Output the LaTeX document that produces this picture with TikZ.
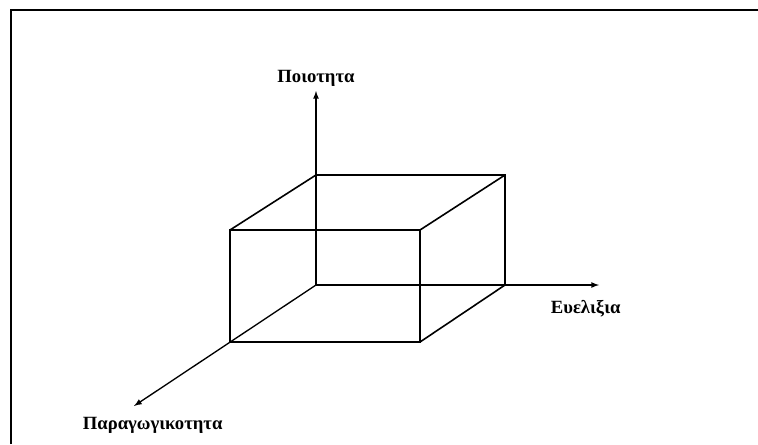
\documentclass[tikz,border=0pt]{standalone}
\usepackage{fontspec}
\setmainfont{Liberation Serif}
\usetikzlibrary{positioning}
\tikzset{
  axislabel/.style={font=\fontsize{14}{16}\selectfont\bfseries,inner sep=1pt},
  boxedge/.style={line width=1.2pt,line join=miter},
  axisline/.style={-latex,line width=1pt}
}
\begin{document}
\begin{tikzpicture}[x=0.75pt,y=-0.75pt]
\useasboundingbox (0,0) rectangle (758,444);
\draw  [line  width=1.6pt]  (11,444)  --  (11,10)  --  (758,10);
% corners of the box
\coordinate (O) at (316,285);
\coordinate (bt) at (316,175);
\coordinate (btr) at (505,175);
\coordinate (bbr) at (505,285);
\coordinate (ftl) at (230,230);
\coordinate (ftr) at (420,230);
\coordinate (fbr) at (420,342);
\coordinate (fbl) at (230,342);
% axes
\coordinate (qtip) at (316,91);
\coordinate (etip) at (599,285);
\coordinate (ptip) at (134,406);
\node (quality) [axislabel,above=2pt of qtip] {Ποιοτητα};
\node (flex) [axislabel,below=10pt of etip,xshift=-10pt] {Ευελιξια};
\node (prod) [axislabel,below=7pt of ptip,xshift=14pt] {Παραγωγικοτητα};
\draw  [axisline]  (O)  --  (qtip);
\draw  [axisline]  (O)  --  (etip);
\draw  [axisline]  (O)  --  (ptip);
% box
\draw  [boxedge]  (ftl)  rectangle  (fbr);
\draw  [boxedge]  (ftl)  --  (bt)  --  (btr)  --  (bbr);
\draw  [boxedge]  (btr)  --  (ftr);
\draw  [boxedge]  (bbr)  --  (fbr);
\end{tikzpicture}
\end{document}
